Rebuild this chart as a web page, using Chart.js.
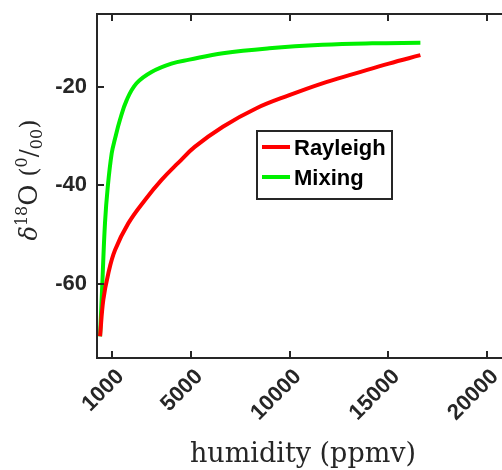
<!DOCTYPE html>
<html>
<head>
<meta charset="utf-8">
<script src="https://cdn.jsdelivr.net/npm/chart.js@4.4.1/dist/chart.umd.min.js"></script>
<style>
  html, body { margin: 0; padding: 0; background: #fff; overflow: hidden; }
  canvas { display: block; }
</style>
</head>
<body>
<canvas id="plot_1" width="502" height="470"></canvas>
<script>
// values
const humidity_ray = [370, 535, 790, 1130, 1800, 2640, 3490, 4320, 5170, 6600, 8280, 9970, 11650, 13330, 15020, 16620];
const d18o_ray     = [-70.6, -63.2, -57.8, -53.1, -47.7, -43.0, -38.9, -35.5, -32.2, -28.1, -24.4, -21.7, -19.3, -17.3, -15.3, -13.6];

const humidity_mix = [370, 485, 620, 760, 960, 1130, 1380, 1720, 2220, 2980, 3990, 4900, 6600, 8950, 11650, 14170, 16620];
const d18o_mix     = [-70.6, -59.8, -47.6, -40.3, -33.5, -30.5, -26.7, -22.7, -19.3, -17.0, -15.3, -14.5, -13.2, -12.2, -11.5, -11.2, -11.1];

const x_ticks = [1000, 5000, 10000, 15000, 20000];
const y_ticks = [-60, -40, -20];
const series_names = ['Rayleigh', 'Mixing'];
const x_title = 'humidity (ppmv)';

const axis_color = '#262626';
const plot_1 = document.getElementById('plot_1');

function pares(xs, ys) {
    return xs.map((x, i) => ({ x: x, y: ys[i] }));
}

// inward tick marks, box top, titles, legend
const marcas = {
    id: 'marcas',
    afterDraw(chart) {
        const ctx = chart.ctx;
        const a = chart.chartArea;
        const sx = chart.scales.x, sy = chart.scales.y;
        ctx.save();
        ctx.strokeStyle = axis_color;
        ctx.lineWidth = 2;
        ctx.beginPath();
        ctx.moveTo(a.left - 1, a.top);
        ctx.lineTo(a.right, a.top);
        x_ticks.forEach(v => {
            const px = Math.round(sx.getPixelForValue(v));
            ctx.moveTo(px, a.bottom); ctx.lineTo(px, a.bottom - 7);
            ctx.moveTo(px, a.top); ctx.lineTo(px, a.top + 7);
        });
        y_ticks.forEach(v => {
            const py = Math.round(sy.getPixelForValue(v));
            ctx.moveTo(a.left, py); ctx.lineTo(a.left + 7, py);
        });
        ctx.stroke();

        // x title
        ctx.fillStyle = axis_color;
        ctx.font = '27px "DejaVu Serif"';
        ctx.textAlign = 'center';
        ctx.textBaseline = 'alphabetic';
        ctx.fillText(x_title, 303, 462);

        // y title  δ18O (0/00)
        const partes = [
            { t: 'δ', f: 'italic 24px "DejaVu Serif"', dy: 0 },
            { t: '18', f: '16px "DejaVu Serif"', dy: -10 },
            { t: 'O', f: '26px "DejaVu Serif"', dy: 0 },
            { t: ' (', f: '24px "DejaVu Serif"', dy: 0 },
            { t: '0', f: '16px "DejaVu Serif"', dy: -10 },
            { t: '/', f: '24px "DejaVu Serif"', dy: 0 },
            { t: '00', f: '16px "DejaVu Serif"', dy: 5 },
            { t: ')', f: '24px "DejaVu Serif"', dy: 0 }
        ];
        let total = 0;
        partes.forEach(p => { ctx.font = p.f; p.w = ctx.measureText(p.t).width; total += p.w; });
        ctx.translate(37, 180);
        ctx.rotate(-Math.PI / 2);
        ctx.textAlign = 'left';
        let cx = -total / 2;
        partes.forEach(p => {
            ctx.font = p.f;
            ctx.fillText(p.t, cx, p.dy);
            cx += p.w;
        });
        ctx.restore();

        // legend
        ctx.save();
        ctx.fillStyle = '#fff';
        ctx.fillRect(257, 131, 135, 68);
        ctx.strokeStyle = axis_color;
        ctx.lineWidth = 2;
        ctx.strokeRect(257, 131, 135, 68);
        ctx.font = 'bold 22px "Liberation Sans"';
        ctx.textBaseline = 'middle';
        chart.data.datasets.forEach((ds, i) => {
            const y = 147 + i * 30;
            ctx.strokeStyle = ds.borderColor;
            ctx.lineWidth = 4;
            ctx.beginPath();
            ctx.moveTo(262, y); ctx.lineTo(290, y);
            ctx.stroke();
            ctx.fillStyle = '#000';
            ctx.fillText(ds.label, 294, y + 2);
        });
        ctx.restore();
    }
};

const dados = {
    type: 'line',
    data: {
        datasets: [
            {
                label: series_names[0],
                borderColor: '#ff0000',
                borderWidth: 4,
                pointRadius: 0,
                tension: 0.4,
                data: pares(humidity_ray, d18o_ray)
            },
            {
                label: series_names[1],
                borderColor: '#00f000',
                borderWidth: 4,
                pointRadius: 0,
                tension: 0.4,
                data: pares(humidity_mix, d18o_mix)
            }
        ]
    },
    options: {
        responsive: false,
        animation: false,
        devicePixelRatio: 1,
        layout: { padding: { top: 14, right: 0, left: 0, bottom: 0 } },
        plugins: { legend: { display: false }, tooltip: { enabled: false } },
        scales: {
            x: {
                type: 'linear',
                min: 214,
                max: 20760,
                afterBuildTicks: s => { s.ticks = x_ticks.map(v => ({ value: v })); },
                afterFit: s => { s.height = 112; s.paddingLeft = 0; s.paddingRight = 0; },
                grid: { display: false, drawTicks: false },
                border: { display: true, color: axis_color, width: 2 },
                ticks: {
                    color: axis_color,
                    font: { family: 'Liberation Sans', size: 22, weight: 'bold' },
                    minRotation: 45,
                    maxRotation: 45,
                    padding: 6,
                    labelOffset: 8,
                    callback: v => String(v)
                }
            },
            y: {
                min: -75,
                max: -5.25,
                afterBuildTicks: s => { s.ticks = y_ticks.map(v => ({ value: v })); },
                afterFit: s => { s.width = 97; s.paddingTop = 0; s.paddingBottom = 0; },
                grid: { display: false, drawTicks: false },
                border: { display: true, color: axis_color, width: 2 },
                ticks: {
                    color: axis_color,
                    font: { family: 'Liberation Sans', size: 22, weight: 'bold' },
                    padding: 10
                }
            }
        }
    },
    plugins: [marcas]
};

const grafico = new Chart(plot_1, dados);
</script>
</body>
</html>
